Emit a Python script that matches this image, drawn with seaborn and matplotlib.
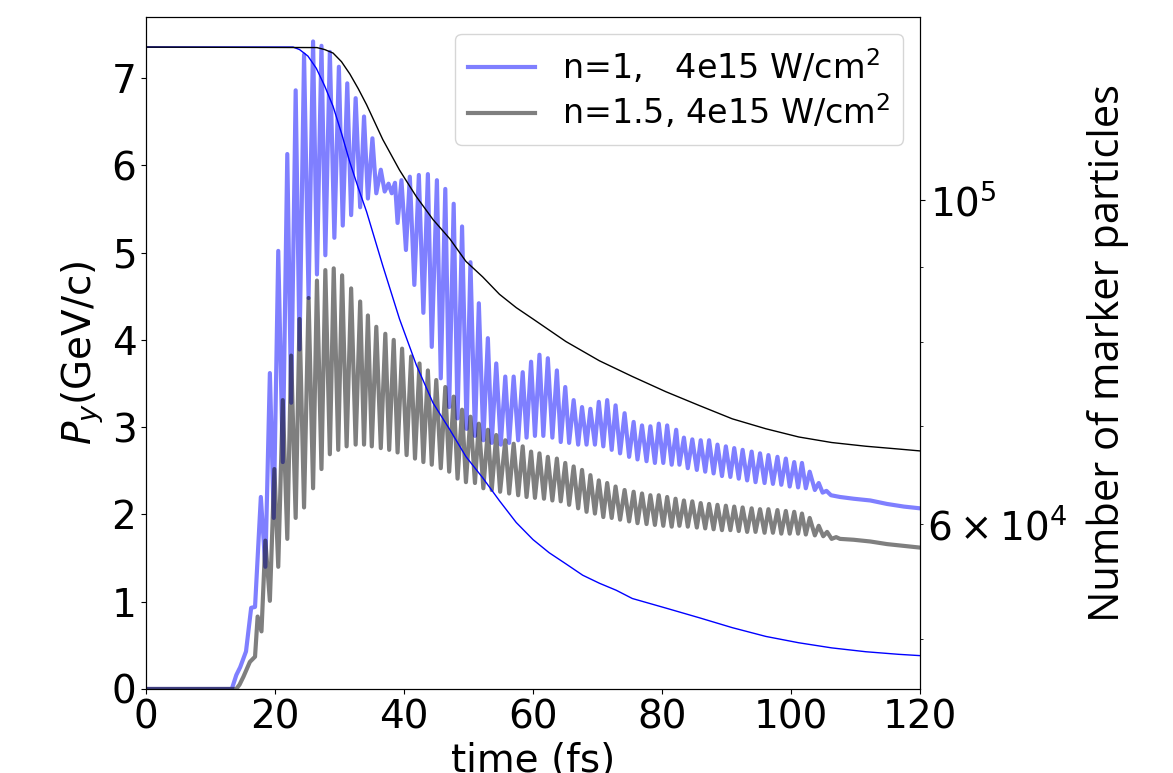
import seaborn as sns
import matplotlib
matplotlib.use('Agg')
import matplotlib.pyplot as plt
import pandas as pd

# P_y for n=1 (time in fs, momentum in GeV/c)
t_n1 = [0, 13.3, 14.0, 14.6, 15.5, 16.3, 16.9, 17.8, 18.5, 19.2, 19.8, 20.5, 21.2, 21.9, 22.5,
        23.2, 23.8, 24.5, 25.2, 25.9, 26.5, 27.2, 27.8, 28.5, 29.2, 29.9, 30.5, 31.2, 31.8, 32.5,
        33.2, 33.8, 34.4, 35.1, 35.7, 36.4, 37.0, 37.6, 38.1, 38.6, 39.0, 39.6, 40.3, 40.9, 41.6,
        42.3, 43.0, 43.7, 44.3, 45.1, 45.7, 46.4, 47.0, 47.7, 48.3, 49.0, 49.7, 50.3, 51.0, 51.6,
        52.3, 53.0, 53.6, 54.3, 55.0, 55.7, 56.3, 57.0, 57.7, 58.4, 59.0, 59.7, 60.3, 61.0, 61.6,
        62.3, 63.0, 63.7, 64.3, 65.0, 65.6, 66.3, 67.0, 67.6, 68.3, 68.9, 69.6, 70.2, 70.9, 71.5,
        72.2, 72.8, 73.5, 74.2, 74.9, 75.6, 76.2, 76.9, 77.6, 78.2, 78.9, 79.5, 80.2, 80.8, 81.5,
        82.2, 82.7, 83.4, 84.0, 84.7, 85.4, 86.0, 86.7, 87.3, 88.0, 88.6, 89.3, 89.9, 90.6, 91.2,
        91.9, 92.5, 93.2, 93.9, 94.5, 95.2, 95.9, 96.5, 97.2, 97.9, 98.5, 99.2, 99.8, 100.5, 101.1,
        101.7, 102.3, 102.9, 103.7, 104.3, 104.9, 105.5, 106.2, 107.6, 109.7, 112.3, 114.9, 117.5, 120]
py_n1 = [0, 0, 0.16, 0.25, 0.43, 0.93, 0.94, 2.20, 1.40, 3.62, 1.96, 5.02, 2.60, 6.13, 3.28,
         6.86, 3.89, 7.27, 4.48, 7.42, 4.75, 7.37, 4.97, 7.30, 5.17, 7.13, 5.31, 6.94, 5.43, 6.77,
         5.52, 6.56, 5.62, 6.31, 5.68, 5.95, 5.70, 5.79, 5.68, 5.80, 5.34, 5.83, 5.03, 5.87, 4.63,
         5.89, 4.31, 5.90, 3.92, 5.83, 3.56, 5.73, 3.23, 5.56, 3.10, 5.30, 2.98, 4.89, 2.90, 4.42,
         2.85, 4.02, 2.82, 3.73, 2.80, 3.58, 2.82, 3.58, 2.85, 3.63, 2.88, 3.75, 2.90, 3.83, 2.90,
         3.79, 2.88, 3.65, 2.83, 3.46, 2.82, 3.31, 2.80, 3.23, 2.80, 3.21, 2.80, 3.29, 2.78, 3.31,
         2.74, 3.25, 2.70, 3.16, 2.66, 3.06, 2.63, 3.02, 2.61, 3.01, 2.59, 3.04, 2.59, 3.02, 2.57,
         2.97, 2.57, 2.88, 2.53, 2.86, 2.51, 2.85, 2.49, 2.85, 2.47, 2.80, 2.44, 2.78, 2.43, 2.76,
         2.41, 2.74, 2.39, 2.72, 2.37, 2.70, 2.36, 2.68, 2.35, 2.66, 2.34, 2.64, 2.32, 2.60, 2.31,
         2.59, 2.30, 2.49, 2.28, 2.36, 2.25, 2.27, 2.22, 2.20, 2.18, 2.16, 2.12, 2.09, 2.07]

# P_y for n=1.5
t_n15 = [0, 14.0, 14.5, 15.1, 16.1, 16.9, 17.3, 17.9, 18.5, 19.2, 19.9, 20.5, 21.2, 21.9, 22.5,
         23.2, 23.8, 24.5, 25.2, 25.9, 26.5, 27.2, 27.8, 28.5, 29.1, 29.8, 30.4, 31.1, 31.8, 32.5,
         33.2, 33.8, 34.4, 35.0, 35.7, 36.4, 37.1, 37.7, 38.4, 39.0, 39.7, 40.4, 41.1, 41.7, 42.4,
         43.0, 43.7, 44.3, 45.0, 45.7, 46.4, 47.0, 47.7, 48.3, 49.0, 49.6, 50.3, 51.0, 51.6, 52.3,
         53.0, 53.6, 54.3, 54.9, 55.7, 56.3, 57.0, 57.7, 58.4, 59.0, 59.7, 60.3, 61.0, 61.7, 62.3,
         63.0, 63.7, 64.3, 65.0, 65.6, 66.3, 67.0, 67.6, 68.3, 68.9, 69.6, 70.2, 70.9, 71.5, 72.2,
         72.8, 73.5, 74.2, 74.9, 75.6, 76.2, 76.9, 77.6, 78.2, 78.9, 79.5, 80.2, 80.8, 81.5, 82.1,
         82.7, 83.4, 84.0, 84.7, 85.4, 86.0, 86.7, 87.3, 88.0, 88.6, 89.3, 89.9, 90.6, 91.2, 91.9,
         92.5, 93.2, 93.9, 94.5, 95.2, 95.9, 96.5, 97.2, 97.9, 98.5, 99.2, 99.8, 100.5, 101.1, 101.7,
         102.3, 102.9, 103.7, 104.3, 105.0, 105.6, 106.3, 107.0, 107.6, 109.7, 112.3, 114.9, 117.5, 120]
py_n15 = [0, 0, 0.05, 0.14, 0.31, 0.37, 0.83, 0.66, 1.70, 1.01, 2.52, 1.40, 3.31, 1.72, 3.82,
          1.96, 4.24, 2.08, 4.48, 2.30, 4.68, 2.52, 4.80, 2.69, 4.82, 2.74, 4.74, 2.78, 4.59, 2.80,
          4.44, 2.80, 4.28, 2.78, 4.15, 2.76, 4.07, 2.74, 4.00, 2.71, 3.90, 2.68, 3.81, 2.64, 3.73,
          2.60, 3.65, 2.57, 3.54, 2.53, 3.46, 2.49, 3.35, 2.41, 3.20, 2.37, 3.12, 2.36, 3.04, 2.30,
          2.97, 2.28, 2.91, 2.26, 2.85, 2.24, 2.81, 2.22, 2.78, 2.20, 2.72, 2.19, 2.70, 2.18, 2.66,
          2.16, 2.64, 2.15, 2.59, 2.11, 2.55, 2.07, 2.51, 2.03, 2.45, 2.01, 2.39, 1.97, 2.36, 1.96,
          2.32, 1.94, 2.28, 1.92, 2.26, 1.90, 2.24, 1.89, 2.22, 1.88, 2.22, 1.87, 2.20, 1.86, 2.18,
          1.87, 2.16, 1.86, 2.15, 1.85, 2.13, 1.84, 2.12, 1.83, 2.11, 1.82, 2.10, 1.82, 2.09, 1.81,
          2.08, 1.80, 2.07, 1.80, 2.06, 1.79, 2.06, 1.79, 2.05, 1.78, 2.04, 1.78, 2.03, 1.78, 2.01,
          1.77, 1.96, 1.76, 1.87, 1.75, 1.80, 1.72, 1.74, 1.72, 1.71, 1.69, 1.66, 1.64, 1.62]

# number of marker particles (right axis, log scale)
t_mk1 = [0, 22.8, 23.8, 25.1, 26.4, 27.7, 29.0, 30.3, 31.6, 32.9, 34.2, 36.7, 39.3, 41.9,
         44.5, 47.1, 49.6, 52.2, 54.8, 57.4, 60.0, 62.5, 65.1, 67.7, 70.3, 72.9, 75.4, 80.6,
         85.8, 90.9, 96.1, 101.2, 106.3, 111.6, 116.7, 120]
mk_n1 = [1.274e5, 1.274e5, 1.269e5, 1.256e5, 1.232e5, 1.198e5, 1.160e5, 1.112e5, 1.062e5,
         1.020e5, 0.982e5, 0.902e5, 0.829e5, 0.771e5, 0.726e5, 0.696e5, 0.667e5, 0.645e5,
         0.622e5, 0.601e5, 0.585e5, 0.573e5, 0.563e5, 0.553e5, 0.546e5, 0.540e5, 0.533e5,
         0.525e5, 0.517e5, 0.509e5, 0.502e5, 0.497e5, 0.493e5, 0.490e5, 0.488e5, 0.487e5]
t_mk15 = [0, 26.5, 27.7, 29.0, 30.3, 31.6, 32.9, 34.2, 36.7, 39.3, 41.9, 44.5, 47.1, 49.6,
          52.2, 54.8, 57.4, 60.0, 65.1, 70.3, 75.4, 80.6, 85.8, 90.9, 96.1, 101.2, 106.3,
          111.6, 116.7, 120]
mk_n15 = [1.274e5, 1.273e5, 1.269e5, 1.262e5, 1.245e5, 1.221e5, 1.193e5, 1.163e5, 1.101e5,
          1.049e5, 1.006e5, 0.970e5, 0.941e5, 0.908e5, 0.886e5, 0.862e5, 0.844e5, 0.829e5,
          0.800e5, 0.776e5, 0.757e5, 0.739e5, 0.723e5, 0.708e5, 0.697e5, 0.688e5, 0.682e5,
          0.678e5, 0.675e5, 0.673e5]

df1 = pd.DataFrame({'t': t_n1, 'py': py_n1})
df15 = pd.DataFrame({'t': t_n15, 'py': py_n15})

fig, ax = plt.subplots(figsize=(11.73, 7.73), dpi=100)
fig.subplots_adjust(left=0.1245, right=0.7843, top=0.978, bottom=0.1087)

sns.lineplot(data=df1, x='t', y='py', ax=ax, color='blue', alpha=0.5, lw=3,
             estimator=None, label='n=1,   4e15 W/cm$^2$')
sns.lineplot(data=df15, x='t', y='py', ax=ax, color='black', alpha=0.5, lw=3,
             estimator=None, label='n=1.5, 4e15 W/cm$^2$')
ax.set_xlim(0, 120)
ax.set_ylim(0, 7.7)
ax.set_xlabel('time (fs)', fontsize=28)
ax.set_ylabel('$P_y$(GeV/c)', fontsize=28)
ax.tick_params(labelsize=28)
ax.legend(loc='upper right', fontsize=24, borderpad=0.4, labelspacing=0.2)

ax2 = ax.twinx()
ax2.set_yscale('log')
sns.lineplot(x=t_mk1, y=mk_n1, ax=ax2, color='blue', lw=1, estimator=None)
sns.lineplot(x=t_mk15, y=mk_n15, ax=ax2, color='black', lw=1, estimator=None)
ax2.set_ylim(4.62e4, 1.336e5)
ax2.set_ylabel('Number of marker particles', fontsize=30, family='Open Sans', labelpad=14)
ax2.tick_params(which='both', labelsize=28)

fig.savefig('out.png', dpi=100)
